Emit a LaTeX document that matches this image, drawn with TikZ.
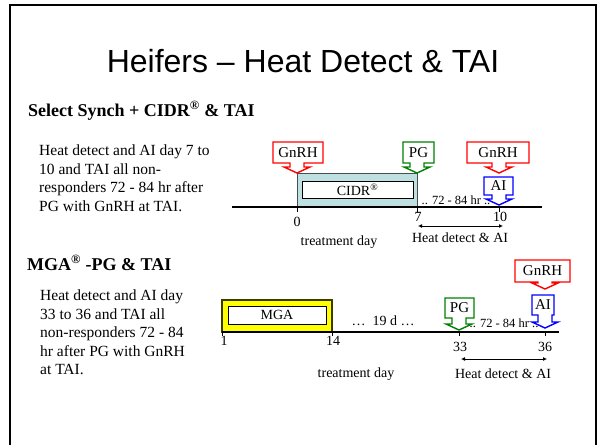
\documentclass[tikz,border=0pt]{standalone}
\usepackage{fontspec}
\setmainfont{Liberation Serif}
\newfontfamily\arialfont{Liberation Sans}
\usetikzlibrary{arrows.meta}
\definecolor{cidrfill}{RGB}{190,224,224}
\definecolor{cidrline}{RGB}{70,80,80}
\definecolor{mgafill}{RGB}{255,255,0}
\definecolor{mgaline}{RGB}{60,60,0}
\definecolor{pggreen}{RGB}{0,128,0}
\newcommand{\cosw}{7}
\newcommand{\cohw}{13}
\newcommand{\cohl}{6}
% name, colour, x1, x2, ytop, ybot, tipx, tipy, text
\newcommand{\callout}[9]{%
  \path[draw=#2, line width=1.4pt, fill=white, line join=miter]
    (#3,#5) -- (#4,#5) -- (#4,#6) -- ({#7+\cosw},#6) -- ({#7+\cosw},{#8-\cohl})
    -- ({#7+\cohw},{#8-\cohl}) -- (#7,#8) -- ({#7-\cohw},{#8-\cohl})
    -- ({#7-\cosw},{#8-\cohl}) -- ({#7-\cosw},#6) -- (#3,#6) -- cycle;
  \node[colbl] (#1) at ({(#3+#4)/2},{(#5+#6)/2}) {#9};
}
\tikzset{
  colbl/.style={inner sep=0pt, font=\fontsize{15}{17}\selectfont},
  lbl/.style={inner sep=0pt, font=\fontsize{14}{16}\selectfont},
  smalllbl/.style={inner sep=0pt, font=\fontsize{12.5}{14}\selectfont},
  body/.style={inner sep=0pt, align=left, anchor=north west, font=\fontsize{15.5}{18.6}\selectfont},
  head/.style={inner sep=0pt, anchor=base west, font=\fontsize{18}{20}\selectfont\bfseries},
  axisline/.style={line width=1.3pt},
  tick/.style={line width=0.8pt},
  span/.style={line width=1pt, {Latex[length=4pt,width=4pt]}-{Latex[length=4pt,width=4pt]}},
}
\begin{document}
\begin{tikzpicture}[x=1pt, y=-1pt]
\useasboundingbox (0,0) rectangle (607,444);
\fill[white] (0,0) rectangle (607,444);
\draw[line width=2.5pt] (10,5) rectangle (596,470);

% title and headings
\node[inner sep=0pt, anchor=base, font=\arialfont\fontsize{32}{36}\selectfont] (title) at (303,73) {Heifers – Heat Detect \& TAI};
\node[head] (h1) at (28,116) {Select Synch + CIDR\textsuperscript{®} \& TAI};
\node[body] (b1) at (39,144.5) {Heat detect and AI day 7 to\\10 and TAI all non-\\responders 72 - 84 hr after\\PG with GnRH at TAI.};
\node[head] (h2) at (27,270) {MGA\textsuperscript{®} -PG \& TAI};
\node[body] (b2) at (40,289.5) {Heat detect and AI day\\33 to 36 and TAI all\\non-responders 72 - 84\\hr after PG with GnRH\\at TAI.};

% ---------- timeline 1 ----------
\coordinate (a1s) at (232,207);
\coordinate (a1e) at (542,207);
\draw[fill=cidrfill, draw=cidrline, line width=0.9pt] (297,173) rectangle (417,207);
\node[draw, line width=0.8pt, fill=white, minimum width=111pt, minimum height=17pt, inner sep=0pt, font=\fontsize{14}{16}\selectfont] (cidr) at (357.5,189.5) {CIDR\textsuperscript{®}};
\draw[axisline] (a1s) -- (a1e);
\coordinate (k0) at (297,207);
\coordinate (k7) at (417,207);
\coordinate (k10) at (499,207);
\draw[tick] (k0) -- ++(0,5);
\draw[tick] (k7) -- ++(0,5);
\draw[tick] (k10) -- ++(0,5);
\node[lbl] (n0) at (297,222) {0};
\node[lbl] (n7) at (418,217) {7};
\node[lbl] (n10) at (500,217) {10};
\node[smalllbl] (hr1) at (456,200) {.. 72 - 84 hr ..};
\coordinate (hd1a) at (418,226);
\coordinate (hd1b) at (503,226);
\draw[span] (hd1a) -- (hd1b);
\node[lbl] (hd1) at (460,238) {Heat detect \& AI};
\node[lbl] (td1) at (339,242) {treatment day};
\callout{g1}{red}{273}{323}{142}{163}{297}{173}{GnRH}
\callout{p1}{pggreen}{403}{434}{142}{163}{417}{173}{PG}
\callout{g2}{red}{467}{529}{142}{163}{499}{173}{GnRH}
\callout{ai1}{blue}{484}{513}{177}{195}{499}{205}{AI}

% ---------- timeline 2 ----------
\coordinate (a2s) at (222,332);
\coordinate (a2e) at (559,332);
\draw[fill=mgafill, draw=mgaline, line width=1.4pt] (222,300) rectangle (332,332);
\node[draw, line width=0.8pt, fill=white, minimum width=98pt, minimum height=18pt, inner sep=0pt, font=\fontsize{14}{16}\selectfont] (mga) at (277,315) {MGA};
\draw[axisline] (a2s) -- (a2e);
\coordinate (k1) at (222,332);
\coordinate (k14) at (332,332);
\coordinate (k33) at (459,332);
\coordinate (k36) at (545,332);
\draw[tick] (k1) -- ++(0,4);
\draw[tick] (k14) -- ++(0,4);
\draw[tick] (k33) -- ++(0,4);
\draw[tick] (k36) -- ++(0,4);
\node[lbl] (n1) at (224,341) {1};
\node[lbl] (n14) at (333,341) {14};
\node[lbl] (n33) at (460,347) {33};
\node[lbl] (n36) at (545,347) {36};
\node[lbl] (d19) at (383,321) {…\ \ 19 d …};
\node[smalllbl] (hr2) at (504,323) {.. 72 - 84 hr ..};
\coordinate (hd2a) at (461,359);
\coordinate (hd2b) at (547,359);
\draw[span] (hd2a) -- (hd2b);
\node[lbl] (hd2) at (503,374) {Heat detect \& AI};
\node[lbl] (td2) at (356,374) {treatment day};
\callout{p2}{pggreen}{445}{474}{298}{318}{459}{330}{PG}
\callout{g3}{red}{515}{570}{260}{282}{545}{289}{GnRH}
\callout{ai2}{blue}{532}{554}{295}{315}{545}{328}{AI}
\end{tikzpicture}
\end{document}
